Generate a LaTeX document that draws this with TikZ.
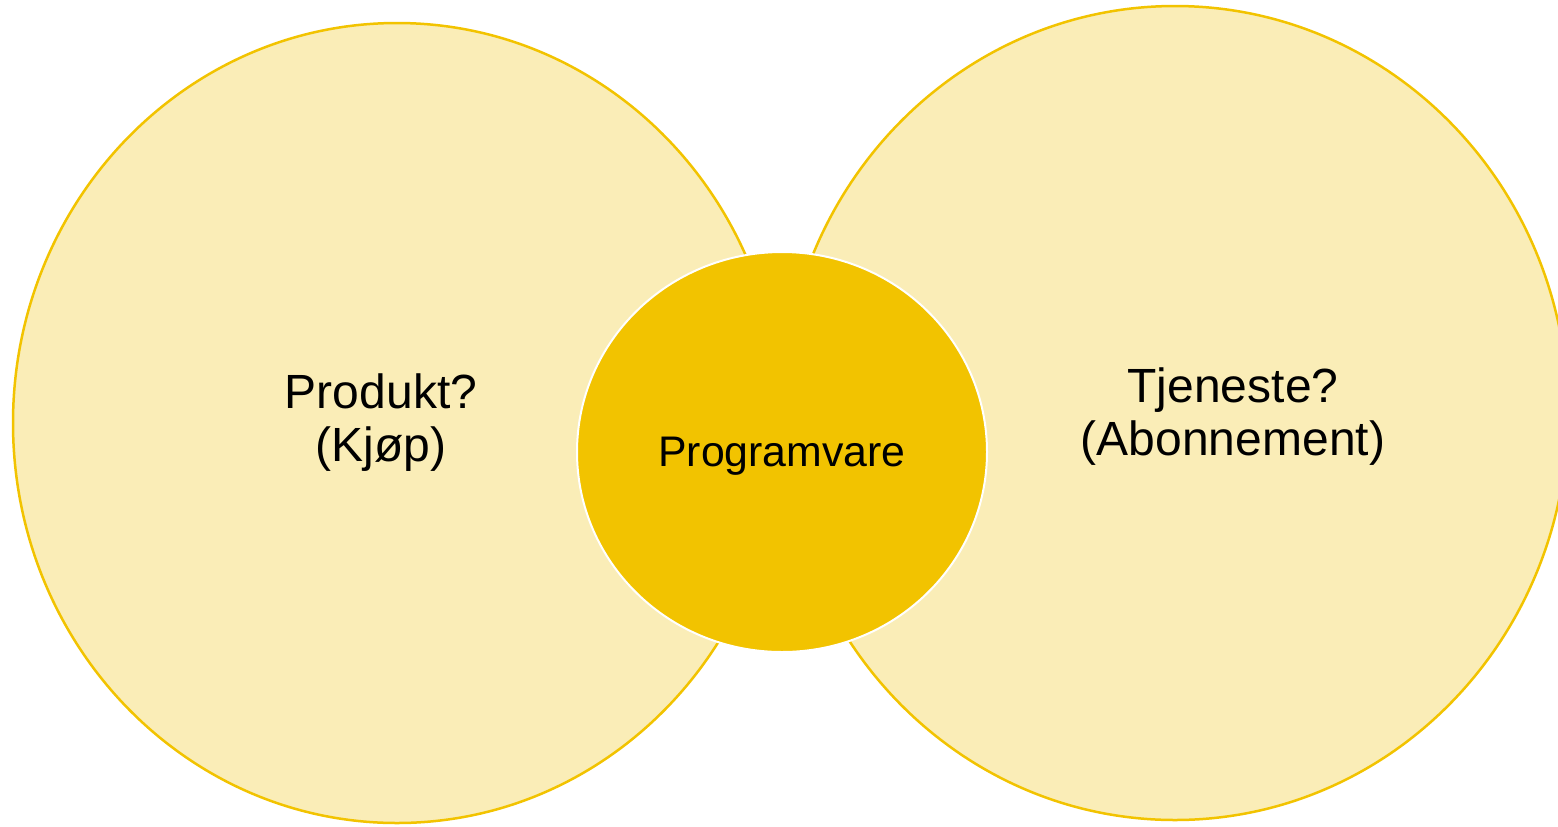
\documentclass[tikz,border=0pt]{standalone}
\usepackage{fontspec}
\setmainfont{Liberation Sans}
\usetikzlibrary{shapes.geometric}

\definecolor{paleyellow}{RGB}{250,237,183}
\definecolor{deepyellow}{RGB}{242,195,0}

\tikzset{
  basic/.style   = {ellipse, inner sep=0pt, outer sep=0pt},
  side/.style    = {basic, draw=deepyellow, line width=1.25pt, fill=paleyellow},
  core/.style    = {basic, draw=white, line width=1pt, fill=deepyellow},
  caption/.style = {align=center, font=\fontsize{24}{26.5}\selectfont}
}

\begin{document}
\begin{tikzpicture}[x=0.5pt, y=-0.5pt]
\clip (0,0) rectangle (1558,826);

% the two outer ellipses
\node[side, minimum width=384pt, minimum height=400pt] (prod) at (397,423) {};
\node[side, minimum width=393pt, minimum height=407pt] (tjen) at (1175,413) {};
% the middle one, on top of both
\node[core, minimum width=205pt, minimum height=200pt] (prog) at (782,452) {};

% texts
\node[caption] (prodtext) at (381,422.5) {Produkt?\\(Kjøp)};
\node[caption] (tjentext) at (1233,417) {Tjeneste?\\(Abonnement)};
\node[caption, font=\fontsize{21.4}{25}\selectfont, anchor=base] (progtext) at (782,466) {Programvare};
\end{tikzpicture}
\end{document}
